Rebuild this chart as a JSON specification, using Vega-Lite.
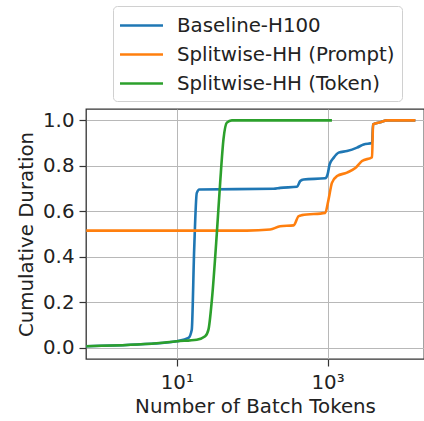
{
  "$schema": "https://vega.github.io/schema/vega-lite/v6.json",
  "autosize": {"type": "none"},
  "width": 338,
  "height": 250,
  "padding": {"left": 86, "top": 109, "right": 0, "bottom": 62},
  "background": "white",
  "config": {
    "font": "DejaVu Sans",
    "view": {"stroke": "#333333", "strokeWidth": 1.3},
    "axis": {
      "labelFont": "DejaVu Sans",
      "titleFont": "DejaVu Sans",
      "labelFontSize": 19.8,
      "titleFontSize": 19.8,
      "titleFontWeight": "normal",
      "labelColor": "#222222",
      "titleColor": "#222222",
      "domain": false,
      "tickColor": "#333333",
      "tickSize": 7,
      "tickWidth": 1.2,
      "gridColor": "#b8b8b8",
      "gridWidth": 1
    },
    "legend": {
      "labelFont": "DejaVu Sans",
      "labelFontSize": 19.8,
      "labelColor": "#222222"
    }
  },
  "data": {
    "values": [
      {"series": "Baseline-H100", "tokens": 0.63, "cdf": 0.006},
      {"series": "Baseline-H100", "tokens": 1, "cdf": 0.008},
      {"series": "Baseline-H100", "tokens": 3, "cdf": 0.014},
      {"series": "Baseline-H100", "tokens": 5, "cdf": 0.018},
      {"series": "Baseline-H100", "tokens": 10, "cdf": 0.028},
      {"series": "Baseline-H100", "tokens": 14.3, "cdf": 0.043},
      {"series": "Baseline-H100", "tokens": 15.8, "cdf": 0.079},
      {"series": "Baseline-H100", "tokens": 17.0, "cdf": 0.43},
      {"series": "Baseline-H100", "tokens": 18.4, "cdf": 0.68},
      {"series": "Baseline-H100", "tokens": 19.9, "cdf": 0.696},
      {"series": "Baseline-H100", "tokens": 192, "cdf": 0.699},
      {"series": "Baseline-H100", "tokens": 235, "cdf": 0.703},
      {"series": "Baseline-H100", "tokens": 393, "cdf": 0.708},
      {"series": "Baseline-H100", "tokens": 434, "cdf": 0.733},
      {"series": "Baseline-H100", "tokens": 480, "cdf": 0.74},
      {"series": "Baseline-H100", "tokens": 931, "cdf": 0.745},
      {"series": "Baseline-H100", "tokens": 1000, "cdf": 0.762},
      {"series": "Baseline-H100", "tokens": 1064, "cdf": 0.806},
      {"series": "Baseline-H100", "tokens": 1202, "cdf": 0.835},
      {"series": "Baseline-H100", "tokens": 1400, "cdf": 0.858},
      {"series": "Baseline-H100", "tokens": 1810, "cdf": 0.865},
      {"series": "Baseline-H100", "tokens": 2455, "cdf": 0.88},
      {"series": "Baseline-H100", "tokens": 3006, "cdf": 0.894},
      {"series": "Baseline-H100", "tokens": 3890, "cdf": 0.9},
      {"series": "Baseline-H100", "tokens": 4010, "cdf": 0.982},
      {"series": "Baseline-H100", "tokens": 5010, "cdf": 0.992},
      {"series": "Baseline-H100", "tokens": 6150, "cdf": 1.0},
      {"series": "Baseline-H100", "tokens": 14600, "cdf": 1.0},
      {"series": "Splitwise-HH (Prompt)", "tokens": 0.63, "cdf": 0.515},
      {"series": "Splitwise-HH (Prompt)", "tokens": 85, "cdf": 0.515},
      {"series": "Splitwise-HH (Prompt)", "tokens": 173, "cdf": 0.52},
      {"series": "Splitwise-HH (Prompt)", "tokens": 235, "cdf": 0.534},
      {"series": "Splitwise-HH (Prompt)", "tokens": 354, "cdf": 0.538},
      {"series": "Splitwise-HH (Prompt)", "tokens": 412, "cdf": 0.578},
      {"series": "Splitwise-HH (Prompt)", "tokens": 457, "cdf": 0.583},
      {"series": "Splitwise-HH (Prompt)", "tokens": 931, "cdf": 0.593},
      {"series": "Splitwise-HH (Prompt)", "tokens": 1030, "cdf": 0.652},
      {"series": "Splitwise-HH (Prompt)", "tokens": 1142, "cdf": 0.725},
      {"series": "Splitwise-HH (Prompt)", "tokens": 1333, "cdf": 0.755},
      {"series": "Splitwise-HH (Prompt)", "tokens": 1810, "cdf": 0.77},
      {"series": "Splitwise-HH (Prompt)", "tokens": 2333, "cdf": 0.79},
      {"series": "Splitwise-HH (Prompt)", "tokens": 2862, "cdf": 0.821},
      {"series": "Splitwise-HH (Prompt)", "tokens": 3890, "cdf": 0.838},
      {"series": "Splitwise-HH (Prompt)", "tokens": 4010, "cdf": 0.982},
      {"series": "Splitwise-HH (Prompt)", "tokens": 5010, "cdf": 0.992},
      {"series": "Splitwise-HH (Prompt)", "tokens": 6150, "cdf": 1.0},
      {"series": "Splitwise-HH (Prompt)", "tokens": 14600, "cdf": 1.0},
      {"series": "Splitwise-HH (Token)", "tokens": 0.63, "cdf": 0.006},
      {"series": "Splitwise-HH (Token)", "tokens": 1, "cdf": 0.008},
      {"series": "Splitwise-HH (Token)", "tokens": 3, "cdf": 0.014},
      {"series": "Splitwise-HH (Token)", "tokens": 5, "cdf": 0.018},
      {"series": "Splitwise-HH (Token)", "tokens": 10, "cdf": 0.028},
      {"series": "Splitwise-HH (Token)", "tokens": 18.4, "cdf": 0.035},
      {"series": "Splitwise-HH (Token)", "tokens": 23.8, "cdf": 0.05},
      {"series": "Splitwise-HH (Token)", "tokens": 26.3, "cdf": 0.079},
      {"series": "Splitwise-HH (Token)", "tokens": 29.2, "cdf": 0.21},
      {"series": "Splitwise-HH (Token)", "tokens": 34, "cdf": 0.505},
      {"series": "Splitwise-HH (Token)", "tokens": 37.6, "cdf": 0.725},
      {"series": "Splitwise-HH (Token)", "tokens": 41.6, "cdf": 0.916},
      {"series": "Splitwise-HH (Token)", "tokens": 46.1, "cdf": 0.99},
      {"series": "Splitwise-HH (Token)", "tokens": 53.7, "cdf": 1.0},
      {"series": "Splitwise-HH (Token)", "tokens": 1142, "cdf": 1.0}
    ]
  },
  "mark": {"type": "line", "strokeWidth": 2.6, "clip": true, "interpolate": "monotone"},
  "encoding": {
    "x": {
      "field": "tokens",
      "type": "quantitative",
      "scale": {"type": "log", "domain": [0.625, 19000], "nice": false},
      "axis": {
        "title": "Number of Batch Tokens",
        "values": [10, 1000],
        "labelExpr": "datum.value == 10 ? '10¹' : '10³'",
        "labelPadding": 6,
        "titlePadding": 5
      }
    },
    "y": {
      "field": "cdf",
      "type": "quantitative",
      "scale": {"domain": [-0.05, 1.05], "nice": false, "zero": false},
      "axis": {
        "title": "Cumulative Duration",
        "values": [0, 0.2, 0.4, 0.6, 0.8, 1.0],
        "format": ".1f",
        "labelPadding": 5,
        "titlePadding": 6
      }
    },
    "color": {
      "field": "series",
      "type": "nominal",
      "scale": {
        "domain": ["Baseline-H100", "Splitwise-HH (Prompt)", "Splitwise-HH (Token)"],
        "range": ["#1f77b4", "#ff7f0e", "#2ca02c"]
      },
      "legend": {
        "title": null,
        "orient": "none",
        "legendX": 27,
        "legendY": -103,
        "symbolType": "M-2,0H2",
        "symbolSize": 462,
        "symbolOffset": 9,
        "symbolStrokeWidth": 2.6,
        "labelOffset": 23,
        "labelLimit": 400,
        "rowPadding": 6,
        "padding": 7,
        "strokeColor": "#d0d0d0",
        "fillColor": "white",
        "cornerRadius": 4
      }
    }
  }
}
